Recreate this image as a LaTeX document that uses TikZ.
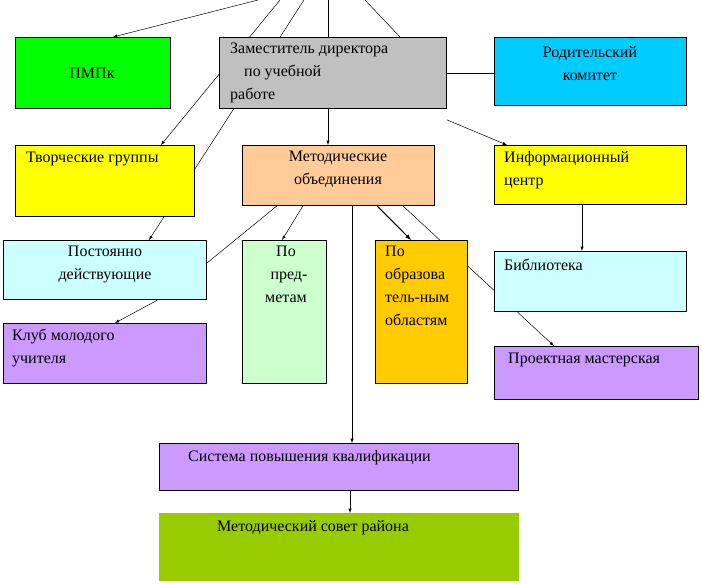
\documentclass[tikz,border=0pt]{standalone}
\usepackage{fontspec}
\setmainfont{Liberation Serif}
\begin{document}
\begin{tikzpicture}[x=1pt,y=-1pt,
  box/.style={draw=black,line width=0.8pt,anchor=north west,inner sep=0pt},
  txt/.style={font=\fontsize{16}{23}\selectfont,inner sep=0pt,align=left},
  ln/.style={draw=black,line width=0.5pt},
  ar/.style={ln,-latex}]
\useasboundingbox (0,0) rectangle (702,584);
\definecolor{gpm}{RGB}{0,255,0}
\definecolor{ggray}{RGB}{192,192,192}
\definecolor{gcy}{RGB}{0,204,255}
\definecolor{gye}{RGB}{255,255,0}
\definecolor{gpe}{RGB}{255,204,153}
\definecolor{glc}{RGB}{204,255,255}
\definecolor{glg}{RGB}{204,255,204}
\definecolor{gor}{RGB}{255,204,0}
\definecolor{gli}{RGB}{204,153,255}
\definecolor{gol}{RGB}{153,204,0}
% background lines
\coordinate (t1) at (258,0);
\coordinate (t2) at (280,0);
\coordinate (t3) at (304,0);
\coordinate (t4) at (328,0);
\coordinate (t5) at (365,0);
\coordinate (e5) at (400,37);
\coordinate (a1) at (113,37);
\coordinate (a2) at (161,145);
\coordinate (a3) at (149,240);
\coordinate (m1) at (278,205);
\coordinate (m1e) at (207,263);
\coordinate (m4) at (402,205);
\coordinate (a4) at (554,346);
\draw[ar] (t1) -- (a1);
\draw[ar] (t2) -- (a2);
\draw[ar] (t3) -- (a3);
\draw[ln] (t5) -- (e5);
\draw[ln] (m1) -- (m1e);
\draw[ar] (m4) -- (a4);
% boxes
\node[box,fill=gpm,minimum width=155,minimum height=71] (pm) at (15,37) {};
\node[box,fill=ggray,minimum width=227,minimum height=71] (zam) at (219,37) {};
\node[box,fill=gcy,minimum width=192,minimum height=68] (rod) at (494,37) {};
\node[box,fill=gye,minimum width=179,minimum height=71] (tv) at (15,145) {};
\node[box,fill=gpe,minimum width=192,minimum height=60] (met) at (242,145) {};
\node[box,fill=gye,minimum width=192,minimum height=59] (inf) at (494,145) {};
\node[box,fill=glc,minimum width=203,minimum height=59] (post) at (3,240) {};
\node[box,fill=glg,minimum width=84,minimum height=143] (pred) at (242,240) {};
\node[box,fill=gor,minimum width=92,minimum height=143] (obr) at (375,240) {};
\node[box,fill=glc,minimum width=192,minimum height=60] (bib) at (494,251) {};
\node[box,fill=gli,minimum width=203,minimum height=60] (klub) at (3,323) {};
\node[box,fill=gli,minimum width=204,minimum height=53] (proj) at (494,346) {};
\node[box,fill=gli,minimum width=359,minimum height=47] (sys) at (159,443) {};
\node[box,fill=gol,draw=gol,minimum width=359,minimum height=67] (ms) at (159,513) {};
% texts
\node[txt] (tpm) at (92,73) {ПМПк};
\node[txt,anchor=north west] (tzam) at (230,43) {Заместитель директора\\\hspace{14pt}по учебной\\работе};
\node[txt,align=center] (trod) at (590,64) {Родительский\\комитет};
\node[txt,anchor=north west] (ttv) at (26,152) {Творческие группы};
\node[txt,align=center,anchor=north] (tmet) at (338,151) {Методические\\объединения};
\node[txt,anchor=north west] (tinf) at (504,151) {Информационный\\центр};
\node[txt,align=center,anchor=north] (tpost) at (105,246) {Постоянно\\действующие};
\node[txt,align=center,anchor=north] (tpred) at (286,246) {По\\\hspace{6pt}пред-\\метам};
\node[txt,anchor=north west] (tobr) at (385,246) {По\\образова\\тель-ным\\областям};
\node[txt,anchor=north west] (tbib) at (504,259) {Библиотека};
\node[txt,anchor=north west] (tklub) at (12,329) {Клуб молодого\\учителя};
\node[txt,anchor=north west] (tproj) at (508,353) {Проектная мастерская};
\node[txt,anchor=north west] (tsys) at (188,450) {Система повышения квалификации};
\node[txt,anchor=north west] (tms) at (217,520) {Методический совет района};
% foreground connectors
\draw[ln] (t4) -- (zam.north -| t4);
\draw[ar] (zam.south -| t4) -- (met.north -| t4);
\draw[ln] (zam.east) -- (rod.west |- zam.east);
\draw[ar] ([yshift=-11pt]zam.south east) -- (inf.north west -| 507,0);
\draw[ar] (met.south -| 303,0) -- (pred.north -| 282,0);
\draw[ar] (met.south -| 352,0) -- (sys.north -| 352,0);
\draw[ar,line width=1pt] (met.south -| 377,0) -- (obr.north -| 411,0);
\draw[ar] (inf.south -| 582,0) -- (bib.north -| 582,0);
\draw[ar] (post.south -| 158,0) -- (klub.north -| 115,0);
\draw[ar] (sys.south -| 350,0) -- (ms.north -| 350,0);
\end{tikzpicture}
\end{document}
